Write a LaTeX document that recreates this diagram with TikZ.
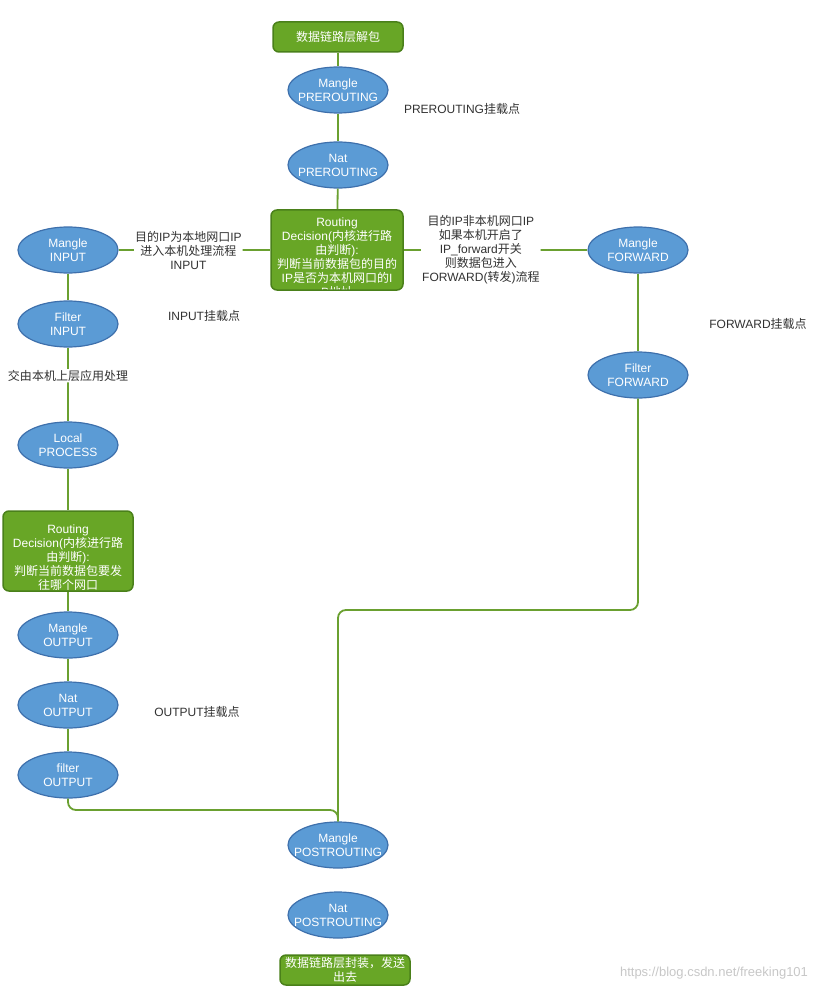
\documentclass[tikz,border=0pt]{standalone}
\usepackage{fontspec}
\setmainfont{Liberation Sans}
\newfontfamily\cjk{Noto Sans CJK SC}
\newcommand{\zh}[1]{{\cjk #1}}
\usepackage{tikz}
\usetikzlibrary{shapes.geometric}
\usepackage{xcolor}
\definecolor{hookblue}{RGB}{91,155,213}
\definecolor{hookedge}{RGB}{62,112,172}
\definecolor{stagegreen}{RGB}{104,166,38}
\definecolor{stageedge}{RGB}{74,128,26}
\definecolor{linkgreen}{RGB}{106,160,48}
\definecolor{notegray}{RGB}{50,50,50}

\begin{document}
\begin{tikzpicture}[x=1pt, y=1pt, font=\fontsize{12}{14}\selectfont]
\useasboundingbox (0,0) rectangle (835,-992);
\tikzstyle{chain} = [ellipse, draw=hookedge, fill=hookblue, line width=1.2pt, minimum width=100pt, minimum height=46pt, inner xsep=-15pt, inner ysep=0pt, text=white, align=center]
\tikzstyle{stage} = [rectangle, rounded corners=6pt, draw=stageedge, fill=stagegreen, line width=1.5pt, minimum width=130pt, minimum height=30pt, inner sep=0pt, text=white, align=center]
\tikzstyle{note} = [text=notegray, align=center, inner sep=1pt]
\tikzstyle{onlink} = [note, fill=white]
\tikzstyle{link} = [draw=linkgreen, line width=1.8pt, rounded corners=8pt]
% prerouting
\node[stage] (unpack) at (338,-37) {\zh{数据链路层解包}};
\node[chain] (mpre) at (338,-90) {Mangle\\PREROUTING};
\node[chain] (npre) at (338,-165) {Nat\\PREROUTING};
\node[note] (hpre) at (462,-109) {PREROUTING\zh{挂载点}};
\node[stage, minimum width=132pt, minimum height=80pt, path picture={
  \node[text=white, align=center] at ([yshift=-7pt]path picture bounding box.center)
  {Routing\\Decision(\zh{内核进行路}\\\zh{由判断}):\\\zh{判断当前数据包的目的}\\IP\zh{是否为本机网口的}I\\P\zh{地址}};
  }] (rd) at (337,-250) {};
% input
\node[chain] (min) at (68,-250) {Mangle\\INPUT};
\node[chain] (fin) at (68,-324) {Filter\\INPUT};
\node[note] (hin) at (204,-316) {INPUT\zh{挂载点}};
\node[chain] (lproc) at (68,-445) {Local\\PROCESS};
% output
\node[stage, minimum width=130pt, minimum height=80pt, path picture={
  \node[text=white, align=center] at ([yshift=-7pt]path picture bounding box.center)
  {Routing\\Decision(\zh{内核进行路}\\\zh{由判断}):\\\zh{判断当前数据包要发}\\\zh{往哪个网口}};
  }] (rd2) at (68,-551) {};
\node[chain] (mout) at (68,-635) {Mangle\\OUTPUT};
\node[chain] (nout) at (68,-705) {Nat\\OUTPUT};
\node[chain] (fout) at (68,-775) {filter\\OUTPUT};
\node[note] (hout) at (197,-712) {OUTPUT\zh{挂载点}};
% forward
\node[chain] (mfwd) at (638,-250) {Mangle\\FORWARD};
\node[chain] (ffwd) at (638,-375) {Filter\\FORWARD};
\node[note] (hfwd) at (758,-324) {FORWARD\zh{挂载点}};
% postrouting
\node[chain] (mpost) at (338,-845) {Mangle\\POSTROUTING};
\node[chain] (npost) at (338,-915) {Nat\\POSTROUTING};
\node[stage] (pack) at (345,-970) {\zh{数据链路层封装，发送}\\\zh{出去}};
\node[text=black!22, font=\fontsize{13}{15}\selectfont] (mark) at (714,-973) {https://blog.csdn.net/freeking101};
\coordinate (j1) at (338,-810);
\coordinate (j2) at (338,-610);
\draw[link] (unpack) -- (mpre);
\draw[link] (mpre) -- (npre);
\draw[link] (npre) -- (rd);
\draw[link] (rd) -- node[onlink, pos=0.54] {\zh{目的}IP\zh{为本地网口}IP\\\zh{进入本机处理流程}\\INPUT} (min);
\draw[link] (rd) -- node[onlink, pos=0.42] {\zh{目的}IP\zh{非本机网口}IP\\\zh{如果本机开启了}\\IP\_forward\zh{开关}\\\zh{则数据包进入}\\FORWARD(\zh{转发})\zh{流程}} (mfwd);
\draw[link] (min) -- (fin);
\draw[link] (fin) -- node[onlink, pos=0.38] {\zh{交由本机上层应用处理}} (lproc);
\draw[link] (lproc) -- (rd2);
\draw[link] (rd2) -- (mout);
\draw[link] (mout) -- (nout);
\draw[link] (nout) -- (fout);
\draw[link] (mfwd) -- (ffwd);
\draw[link] (fout) |- (j1) -- (mpost);
\draw[link] (ffwd) |- (j2) -- (mpost);
\end{tikzpicture}
\end{document}
